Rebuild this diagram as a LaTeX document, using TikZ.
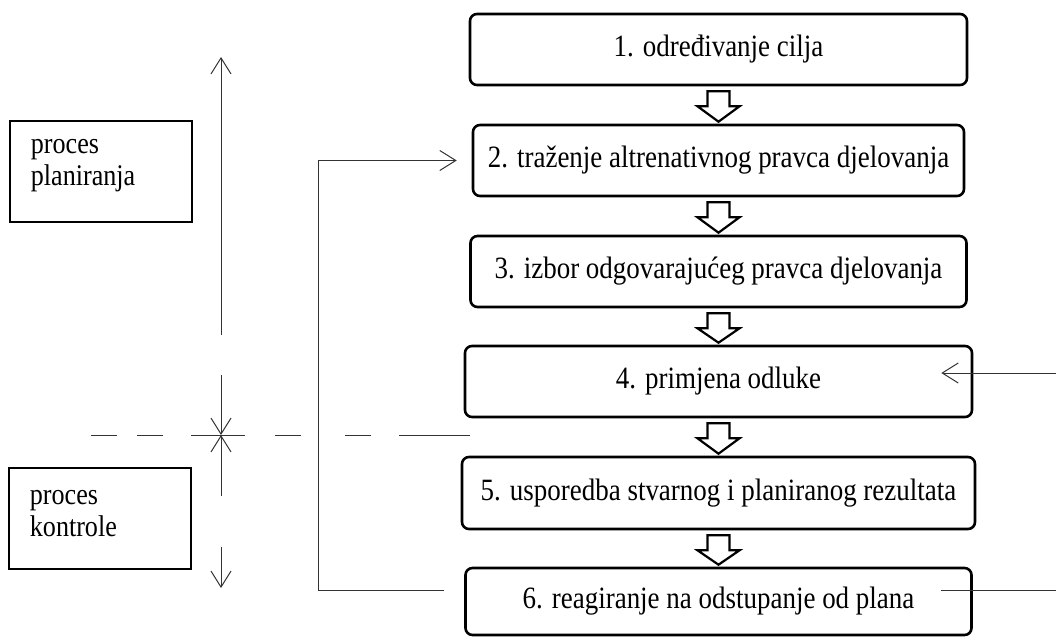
\documentclass[tikz,border=0pt]{standalone}
\usepackage{fontspec}
\setmainfont{Liberation Serif}[FakeStretch=0.87]
\usetikzlibrary{calc}
\usetikzlibrary{arrows.meta}

\begin{document}
\begin{tikzpicture}[x=1pt,y=-1pt,
    stepbox/.style={draw,line width=2.6pt,rounded corners=7pt,minimum height=71pt,inner sep=0pt,font=\fontsize{31}{36}\selectfont},
    sidebox/.style={draw,line width=2.6pt,minimum width=182pt,minimum height=101pt},
    sidetext/.style={align=left,inner sep=0pt,font=\fontsize{30}{31.7}\selectfont},
    hollow/.style={draw,line width=2.2pt,fill=white,line join=miter},
    thinline/.style={line width=1pt,draw=black!80},
    barb/.style={-{Straight Barb[length=16pt,width=20pt]}}]
  \useasboundingbox (0,0) rectangle (1056,637);

  % koraci procesa
  \node[stepbox,minimum width=497pt] (s1) at (718.5,49.5) {1. određivanje cilja};
  \node[stepbox,minimum width=491pt] (s2) at (718.5,160.5) {2. traženje altrenativnog pravca djelovanja};
  \node[stepbox,minimum width=496pt] (s3) at (718.5,271.5) {3. izbor odgovarajućeg pravca djelovanja};
  \node[stepbox,minimum width=507pt] (s4) at (718.5,381.5) {4. primjena odluke};
  \node[stepbox,minimum width=513pt,minimum height=72pt] (s5) at (718.5,493) {5. usporedba stvarnog i planiranog rezultata};
  \node[stepbox,minimum width=506pt,minimum height=67pt] (s6) at (718.5,601.5) {6. reagiranje na odstupanje od plana};

  % šuplje strelice
  \foreach \a/\b in {s1/s2,s2/s3,s3/s4,s4/s5,s5/s6}
    \draw[hollow] ($(\a.south)+(-11,5)$) -- ++(22,0) -- ++(0,15) -- ++(10,0)
      -- ($(\b.north)+(0,-2)$) -- ($(\a.south)+(-21,20)$) -- ++(10,0) -- cycle;

  % lijevi okviri
  \node[sidebox] (plan) at (101,171.5) {};
  \node[sidetext,anchor=west] (plantext) at ($(plan.west)+(22,-6)$) {proces\\planiranja};
  \node[sidebox] (kontr) at (100,518.5) {};
  \node[sidetext,anchor=west] (kontrtext) at ($(kontr.west)+(22,-5)$) {proces\\kontrole};

  % os planiranje / kontrola
  \coordinate (cross) at (221,435);
  \coordinate (axtop) at (221,57);
  \coordinate (axbot) at (221,588);
  \draw[thinline,barb] ($(cross)+(0,-100)$) -- (axtop);
  \draw[thinline,barb] ($(cross)+(0,-60)$) -- (cross);
  \draw[thinline,barb] ($(cross)+(0,61)$) -- (cross);
  \draw[thinline,barb] ($(cross)+(0,112)$) -- (axbot);

  % isprekidana granica
  \foreach \from/\to in {91/117,137/163,191/245,275/301,345/371,399/470}
    \draw[thinline] (\from,435) -- (\to,435);

  % povratna veza
  \coordinate (fbout) at ($(s6.west)+(-20,-11.5)$);
  \coordinate (fbin) at ($(s2.west)+(-15,0)$);
  \draw[thinline,barb] (fbout) -- ++(-126,0) |- (fbin);

  % desne veze
  \coordinate (rin) at (1056,373);
  \coordinate (rout) at (1056,590);
  \draw[thinline,barb] (rin) -- ($(s4.east)+(-32,-8.5)$);
  \draw[thinline] ($(s6.east)+(-32,-11.5)$) -- (rout);
\end{tikzpicture}
\end{document}
